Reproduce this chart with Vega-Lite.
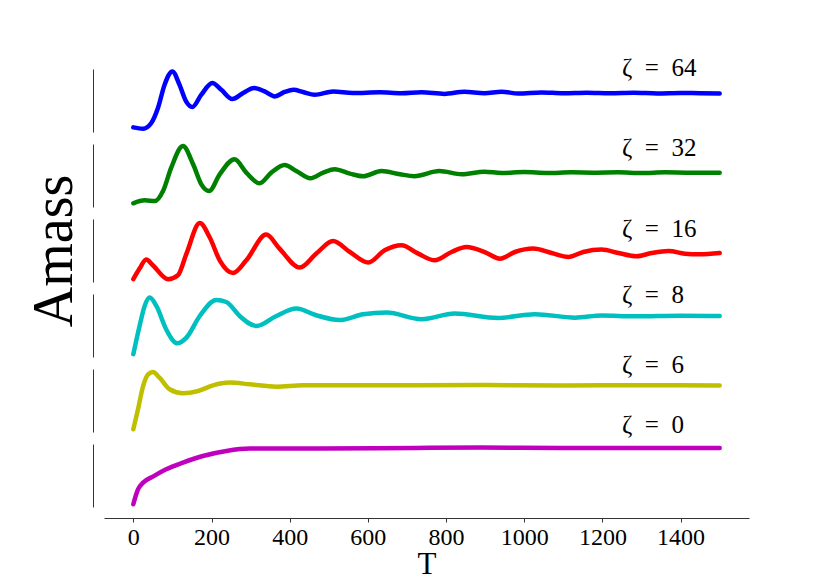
{
  "$schema": "https://vega.github.io/schema/vega-lite/v6.json",
  "background": "white",
  "padding": {"left": 26, "top": 56, "right": 5, "bottom": 0},
  "config": {
    "view": {"stroke": null},
    "font": "Liberation Serif",
    "axisY": {"domain": true, "ticks": false, "labels": false, "grid": false, "offset": 11, "domainColor": "#333333", "domainWidth": 1}
  },
  "datasets": {
    "amass": [
      {"zeta": 64, "T": 0, "amass": 0.073}, {"zeta": 64, "T": 25, "amass": 0.052}, {"zeta": 64, "T": 46, "amass": 0.143},
      {"zeta": 64, "T": 63, "amass": 0.381}, {"zeta": 64, "T": 80, "amass": 0.751}, {"zeta": 64, "T": 100, "amass": 0.962},
      {"zeta": 64, "T": 118, "amass": 0.751}, {"zeta": 64, "T": 135, "amass": 0.486}, {"zeta": 64, "T": 151, "amass": 0.397},
      {"zeta": 64, "T": 174, "amass": 0.592}, {"zeta": 64, "T": 202, "amass": 0.778}, {"zeta": 64, "T": 225, "amass": 0.671},
      {"zeta": 64, "T": 253, "amass": 0.524}, {"zeta": 64, "T": 281, "amass": 0.619}, {"zeta": 64, "T": 309, "amass": 0.698},
      {"zeta": 64, "T": 336, "amass": 0.644}, {"zeta": 64, "T": 362, "amass": 0.565}, {"zeta": 64, "T": 387, "amass": 0.635},
      {"zeta": 64, "T": 410, "amass": 0.671}, {"zeta": 64, "T": 434, "amass": 0.635}, {"zeta": 64, "T": 464, "amass": 0.592},
      {"zeta": 64, "T": 511, "amass": 0.644}, {"zeta": 64, "T": 562, "amass": 0.619}, {"zeta": 64, "T": 630, "amass": 0.629},
      {"zeta": 64, "T": 686, "amass": 0.614}, {"zeta": 64, "T": 737, "amass": 0.63}, {"zeta": 64, "T": 796, "amass": 0.605},
      {"zeta": 64, "T": 847, "amass": 0.638}, {"zeta": 64, "T": 898, "amass": 0.615}, {"zeta": 64, "T": 942, "amass": 0.64},
      {"zeta": 64, "T": 985, "amass": 0.61}, {"zeta": 64, "T": 1044, "amass": 0.628}, {"zeta": 64, "T": 1100, "amass": 0.615},
      {"zeta": 64, "T": 1160, "amass": 0.624}, {"zeta": 64, "T": 1220, "amass": 0.615}, {"zeta": 64, "T": 1280, "amass": 0.622},
      {"zeta": 64, "T": 1340, "amass": 0.613}, {"zeta": 64, "T": 1400, "amass": 0.62}, {"zeta": 64, "T": 1450, "amass": 0.615},
      {"zeta": 64, "T": 1500, "amass": 0.613},

      {"zeta": 32, "T": 0, "amass": 0.059}, {"zeta": 32, "T": 29, "amass": 0.106}, {"zeta": 32, "T": 55, "amass": 0.095},
      {"zeta": 32, "T": 76, "amass": 0.254}, {"zeta": 32, "T": 97, "amass": 0.625}, {"zeta": 32, "T": 127, "amass": 0.968},
      {"zeta": 32, "T": 153, "amass": 0.678}, {"zeta": 32, "T": 174, "amass": 0.36}, {"zeta": 32, "T": 194, "amass": 0.254},
      {"zeta": 32, "T": 221, "amass": 0.519}, {"zeta": 32, "T": 259, "amass": 0.757}, {"zeta": 32, "T": 289, "amass": 0.546},
      {"zeta": 32, "T": 323, "amass": 0.376}, {"zeta": 32, "T": 353, "amass": 0.546}, {"zeta": 32, "T": 387, "amass": 0.667},
      {"zeta": 32, "T": 417, "amass": 0.571}, {"zeta": 32, "T": 453, "amass": 0.456}, {"zeta": 32, "T": 486, "amass": 0.546},
      {"zeta": 32, "T": 515, "amass": 0.598}, {"zeta": 32, "T": 554, "amass": 0.53}, {"zeta": 32, "T": 588, "amass": 0.487},
      {"zeta": 32, "T": 635, "amass": 0.571}, {"zeta": 32, "T": 682, "amass": 0.52}, {"zeta": 32, "T": 719, "amass": 0.49},
      {"zeta": 32, "T": 783, "amass": 0.57}, {"zeta": 32, "T": 840, "amass": 0.52}, {"zeta": 32, "T": 898, "amass": 0.56},
      {"zeta": 32, "T": 942, "amass": 0.54}, {"zeta": 32, "T": 1000, "amass": 0.555}, {"zeta": 32, "T": 1060, "amass": 0.54},
      {"zeta": 32, "T": 1120, "amass": 0.55}, {"zeta": 32, "T": 1180, "amass": 0.545}, {"zeta": 32, "T": 1240, "amass": 0.55},
      {"zeta": 32, "T": 1300, "amass": 0.54}, {"zeta": 32, "T": 1360, "amass": 0.55}, {"zeta": 32, "T": 1420, "amass": 0.545},
      {"zeta": 32, "T": 1500, "amass": 0.545},

      {"zeta": 16, "T": 0, "amass": 0.045}, {"zeta": 16, "T": 16, "amass": 0.213}, {"zeta": 16, "T": 33, "amass": 0.356},
      {"zeta": 16, "T": 50, "amass": 0.265}, {"zeta": 16, "T": 89, "amass": 0.043}, {"zeta": 16, "T": 114, "amass": 0.106},
      {"zeta": 16, "T": 136, "amass": 0.451}, {"zeta": 16, "T": 170, "amass": 0.935}, {"zeta": 16, "T": 195, "amass": 0.714},
      {"zeta": 16, "T": 221, "amass": 0.344}, {"zeta": 16, "T": 255, "amass": 0.143}, {"zeta": 16, "T": 289, "amass": 0.344},
      {"zeta": 16, "T": 340, "amass": 0.752}, {"zeta": 16, "T": 374, "amass": 0.53}, {"zeta": 16, "T": 426, "amass": 0.229},
      {"zeta": 16, "T": 468, "amass": 0.451}, {"zeta": 16, "T": 511, "amass": 0.651}, {"zeta": 16, "T": 554, "amass": 0.476},
      {"zeta": 16, "T": 601, "amass": 0.308}, {"zeta": 16, "T": 643, "amass": 0.503}, {"zeta": 16, "T": 686, "amass": 0.583},
      {"zeta": 16, "T": 729, "amass": 0.45}, {"zeta": 16, "T": 771, "amass": 0.344}, {"zeta": 16, "T": 814, "amass": 0.476},
      {"zeta": 16, "T": 852, "amass": 0.556}, {"zeta": 16, "T": 899, "amass": 0.476}, {"zeta": 16, "T": 938, "amass": 0.371},
      {"zeta": 16, "T": 976, "amass": 0.476}, {"zeta": 16, "T": 1023, "amass": 0.53}, {"zeta": 16, "T": 1070, "amass": 0.46},
      {"zeta": 16, "T": 1113, "amass": 0.397}, {"zeta": 16, "T": 1151, "amass": 0.476}, {"zeta": 16, "T": 1198, "amass": 0.514},
      {"zeta": 16, "T": 1241, "amass": 0.46}, {"zeta": 16, "T": 1287, "amass": 0.408}, {"zeta": 16, "T": 1326, "amass": 0.46},
      {"zeta": 16, "T": 1369, "amass": 0.492}, {"zeta": 16, "T": 1411, "amass": 0.45}, {"zeta": 16, "T": 1449, "amass": 0.44},
      {"zeta": 16, "T": 1500, "amass": 0.46},

      {"zeta": 8, "T": 0, "amass": 0.045}, {"zeta": 8, "T": 16, "amass": 0.492}, {"zeta": 8, "T": 29, "amass": 0.81},
      {"zeta": 8, "T": 42, "amass": 0.943}, {"zeta": 8, "T": 59, "amass": 0.81}, {"zeta": 8, "T": 84, "amass": 0.44},
      {"zeta": 8, "T": 112, "amass": 0.217}, {"zeta": 8, "T": 136, "amass": 0.308}, {"zeta": 8, "T": 170, "amass": 0.651},
      {"zeta": 8, "T": 212, "amass": 0.905}, {"zeta": 8, "T": 238, "amass": 0.873}, {"zeta": 8, "T": 272, "amass": 0.651},
      {"zeta": 8, "T": 315, "amass": 0.492}, {"zeta": 8, "T": 366, "amass": 0.651}, {"zeta": 8, "T": 417, "amass": 0.768},
      {"zeta": 8, "T": 468, "amass": 0.662}, {"zeta": 8, "T": 528, "amass": 0.587}, {"zeta": 8, "T": 588, "amass": 0.678},
      {"zeta": 8, "T": 648, "amass": 0.705}, {"zeta": 8, "T": 737, "amass": 0.6}, {"zeta": 8, "T": 822, "amass": 0.69},
      {"zeta": 8, "T": 933, "amass": 0.62}, {"zeta": 8, "T": 1027, "amass": 0.68}, {"zeta": 8, "T": 1130, "amass": 0.625},
      {"zeta": 8, "T": 1198, "amass": 0.66}, {"zeta": 8, "T": 1283, "amass": 0.645}, {"zeta": 8, "T": 1400, "amass": 0.655},
      {"zeta": 8, "T": 1500, "amass": 0.65},

      {"zeta": 6, "T": 0, "amass": 0.043}, {"zeta": 6, "T": 12, "amass": 0.36}, {"zeta": 6, "T": 25, "amass": 0.73},
      {"zeta": 6, "T": 38, "amass": 0.916}, {"zeta": 6, "T": 50, "amass": 0.952}, {"zeta": 6, "T": 67, "amass": 0.863},
      {"zeta": 6, "T": 93, "amass": 0.678}, {"zeta": 6, "T": 127, "amass": 0.614}, {"zeta": 6, "T": 166, "amass": 0.651},
      {"zeta": 6, "T": 204, "amass": 0.741}, {"zeta": 6, "T": 246, "amass": 0.784}, {"zeta": 6, "T": 298, "amass": 0.757},
      {"zeta": 6, "T": 366, "amass": 0.72}, {"zeta": 6, "T": 434, "amass": 0.741}, {"zeta": 6, "T": 562, "amass": 0.741},
      {"zeta": 6, "T": 724, "amass": 0.741}, {"zeta": 6, "T": 900, "amass": 0.745}, {"zeta": 6, "T": 1100, "amass": 0.74},
      {"zeta": 6, "T": 1300, "amass": 0.742}, {"zeta": 6, "T": 1500, "amass": 0.74},

      {"zeta": 0, "T": 0, "amass": 0.043}, {"zeta": 0, "T": 6, "amass": 0.175}, {"zeta": 0, "T": 12, "amass": 0.28},
      {"zeta": 0, "T": 25, "amass": 0.387}, {"zeta": 0, "T": 50, "amass": 0.483}, {"zeta": 0, "T": 84, "amass": 0.598},
      {"zeta": 0, "T": 127, "amass": 0.705}, {"zeta": 0, "T": 178, "amass": 0.81}, {"zeta": 0, "T": 238, "amass": 0.889},
      {"zeta": 0, "T": 298, "amass": 0.927}, {"zeta": 0, "T": 392, "amass": 0.927}, {"zeta": 0, "T": 477, "amass": 0.927},
      {"zeta": 0, "T": 724, "amass": 0.937}, {"zeta": 0, "T": 890, "amass": 0.945}, {"zeta": 0, "T": 1095, "amass": 0.935},
      {"zeta": 0, "T": 1300, "amass": 0.937}, {"zeta": 0, "T": 1500, "amass": 0.937}
    ],
    "labels": [
      {"zeta": 64, "label": "ζ\u2002=\u200264"},
      {"zeta": 32, "label": "ζ\u2002=\u200232"},
      {"zeta": 16, "label": "ζ\u2002=\u200216"},
      {"zeta": 8, "label": "ζ\u2002=\u20028"},
      {"zeta": 6, "label": "ζ\u2002=\u20026"},
      {"zeta": 0, "label": "ζ\u2002=\u20020"}
    ]
  },
  "spacing": 12,
  "bounds": "flush",
  "resolve": {"scale": {"x": "shared", "y": "independent"}},
  "vconcat": [
    {
      "width": 645, "height": 63,
      "layer": [
        {"data": {"name": "amass"}, "transform": [{"filter": "datum.zeta == 64"}],
         "mark": {"type": "line", "interpolate": "monotone", "strokeWidth": 4.5, "strokeCap": "round", "color": "#0000ff"},
         "encoding": {
           "x": {"field": "T", "type": "quantitative", "scale": {"domain": [-75, 1575], "nice": false, "zero": false}, "axis": null},
           "y": {"field": "amass", "type": "quantitative", "scale": {"domain": [0, 1], "nice": false, "zero": false}, "axis": {"title": null}}
         }},
        {"data": {"name": "labels"}, "transform": [{"filter": "datum.zeta == 64"}],
         "mark": {"type": "text", "align": "left", "baseline": "alphabetic", "fontSize": 25, "color": "black"},
         "encoding": {"x": {"datum": 1250, "axis": null}, "y": {"datum": 0.883, "axis": {"title": null}}, "text": {"field": "label"}}}
      ]
    },
    {
      "width": 645, "height": 63,
      "layer": [
        {"data": {"name": "amass"}, "transform": [{"filter": "datum.zeta == 32"}],
         "mark": {"type": "line", "interpolate": "monotone", "strokeWidth": 4.5, "strokeCap": "round", "color": "#008000"},
         "encoding": {
           "x": {"field": "T", "type": "quantitative", "scale": {"domain": [-75, 1575], "nice": false, "zero": false}, "axis": null},
           "y": {"field": "amass", "type": "quantitative", "scale": {"domain": [0, 1], "nice": false, "zero": false}, "axis": {"title": null}}
         }},
        {"data": {"name": "labels"}, "transform": [{"filter": "datum.zeta == 32"}],
         "mark": {"type": "text", "align": "left", "baseline": "alphabetic", "fontSize": 25, "color": "black"},
         "encoding": {"x": {"datum": 1250, "axis": null}, "y": {"datum": 0.81, "axis": {"title": null}}, "text": {"field": "label"}}}
      ]
    },
    {
      "width": 645, "height": 63,
      "layer": [
        {"data": {"name": "amass"}, "transform": [{"filter": "datum.zeta == 16"}],
         "mark": {"type": "line", "interpolate": "monotone", "strokeWidth": 4.5, "strokeCap": "round", "color": "#ff0000"},
         "encoding": {
           "x": {"field": "T", "type": "quantitative", "scale": {"domain": [-75, 1575], "nice": false, "zero": false}, "axis": null},
           "y": {"field": "amass", "type": "quantitative", "scale": {"domain": [0, 1], "nice": false, "zero": false},
                 "axis": {"title": "Amass", "titleFontSize": 56, "titleFontWeight": "normal", "titleColor": "black", "titlePadding": 10}}
         }},
        {"data": {"name": "labels"}, "transform": [{"filter": "datum.zeta == 16"}],
         "mark": {"type": "text", "align": "left", "baseline": "alphabetic", "fontSize": 25, "color": "black"},
         "encoding": {"x": {"datum": 1250, "axis": null},
                      "y": {"datum": 0.714, "axis": {"title": "Amass", "titleFontSize": 56, "titleFontWeight": "normal", "titleColor": "black", "titlePadding": 10}},
                      "text": {"field": "label"}}}
      ]
    },
    {
      "width": 645, "height": 63,
      "layer": [
        {"data": {"name": "amass"}, "transform": [{"filter": "datum.zeta == 8"}],
         "mark": {"type": "line", "interpolate": "monotone", "strokeWidth": 4.5, "strokeCap": "round", "color": "#00bfbf"},
         "encoding": {
           "x": {"field": "T", "type": "quantitative", "scale": {"domain": [-75, 1575], "nice": false, "zero": false}, "axis": null},
           "y": {"field": "amass", "type": "quantitative", "scale": {"domain": [0, 1], "nice": false, "zero": false}, "axis": {"title": null}}
         }},
        {"data": {"name": "labels"}, "transform": [{"filter": "datum.zeta == 8"}],
         "mark": {"type": "text", "align": "left", "baseline": "alphabetic", "fontSize": 25, "color": "black"},
         "encoding": {"x": {"datum": 1250, "axis": null}, "y": {"datum": 0.863, "axis": {"title": null}}, "text": {"field": "label"}}}
      ]
    },
    {
      "width": 645, "height": 63,
      "layer": [
        {"data": {"name": "amass"}, "transform": [{"filter": "datum.zeta == 6"}],
         "mark": {"type": "line", "interpolate": "monotone", "strokeWidth": 4.5, "strokeCap": "round", "color": "#bfbf00"},
         "encoding": {
           "x": {"field": "T", "type": "quantitative", "scale": {"domain": [-75, 1575], "nice": false, "zero": false}, "axis": null},
           "y": {"field": "amass", "type": "quantitative", "scale": {"domain": [0, 1], "nice": false, "zero": false}, "axis": {"title": null}}
         }},
        {"data": {"name": "labels"}, "transform": [{"filter": "datum.zeta == 6"}],
         "mark": {"type": "text", "align": "left", "baseline": "alphabetic", "fontSize": 25, "color": "black"},
         "encoding": {"x": {"datum": 1250, "axis": null}, "y": {"datum": 0.943, "axis": {"title": null}}, "text": {"field": "label"}}}
      ]
    },
    {
      "width": 645, "height": 63,
      "layer": [
        {"data": {"name": "amass"}, "transform": [{"filter": "datum.zeta == 0"}],
         "mark": {"type": "line", "interpolate": "monotone", "strokeWidth": 4.5, "strokeCap": "round", "color": "#bf00bf"},
         "encoding": {
           "x": {"field": "T", "type": "quantitative", "scale": {"domain": [-75, 1575], "nice": false, "zero": false},
                 "axis": {"values": [0, 200, 400, 600, 800, 1000, 1200, 1400], "format": "d", "title": "T", "grid": false, "offset": 11,
                          "domainColor": "#333333", "tickColor": "#333333", "tickSize": 4, "labelFontSize": 24, "labelColor": "black",
                          "labelPadding": 3, "labelFlush": false, "titleFontSize": 31, "titleFontWeight": "normal", "titleColor": "black", "titlePadding": 0}},
           "y": {"field": "amass", "type": "quantitative", "scale": {"domain": [0, 1], "nice": false, "zero": false}, "axis": {"title": null}}
         }},
        {"data": {"name": "labels"}, "transform": [{"filter": "datum.zeta == 0"}],
         "mark": {"type": "text", "align": "left", "baseline": "alphabetic", "fontSize": 25, "color": "black"},
         "encoding": {"x": {"datum": 1250,
                            "axis": {"values": [0, 200, 400, 600, 800, 1000, 1200, 1400], "format": "d", "title": "T", "grid": false, "offset": 11,
                                     "domainColor": "#333333", "tickColor": "#333333", "tickSize": 4, "labelFontSize": 24, "labelColor": "black",
                                     "labelPadding": 3, "labelFlush": false, "titleFontSize": 31, "titleFontWeight": "normal", "titleColor": "black", "titlePadding": 0}},
                      "y": {"datum": 1.17, "axis": {"title": null}}, "text": {"field": "label"}}}
      ]
    }
  ]
}
